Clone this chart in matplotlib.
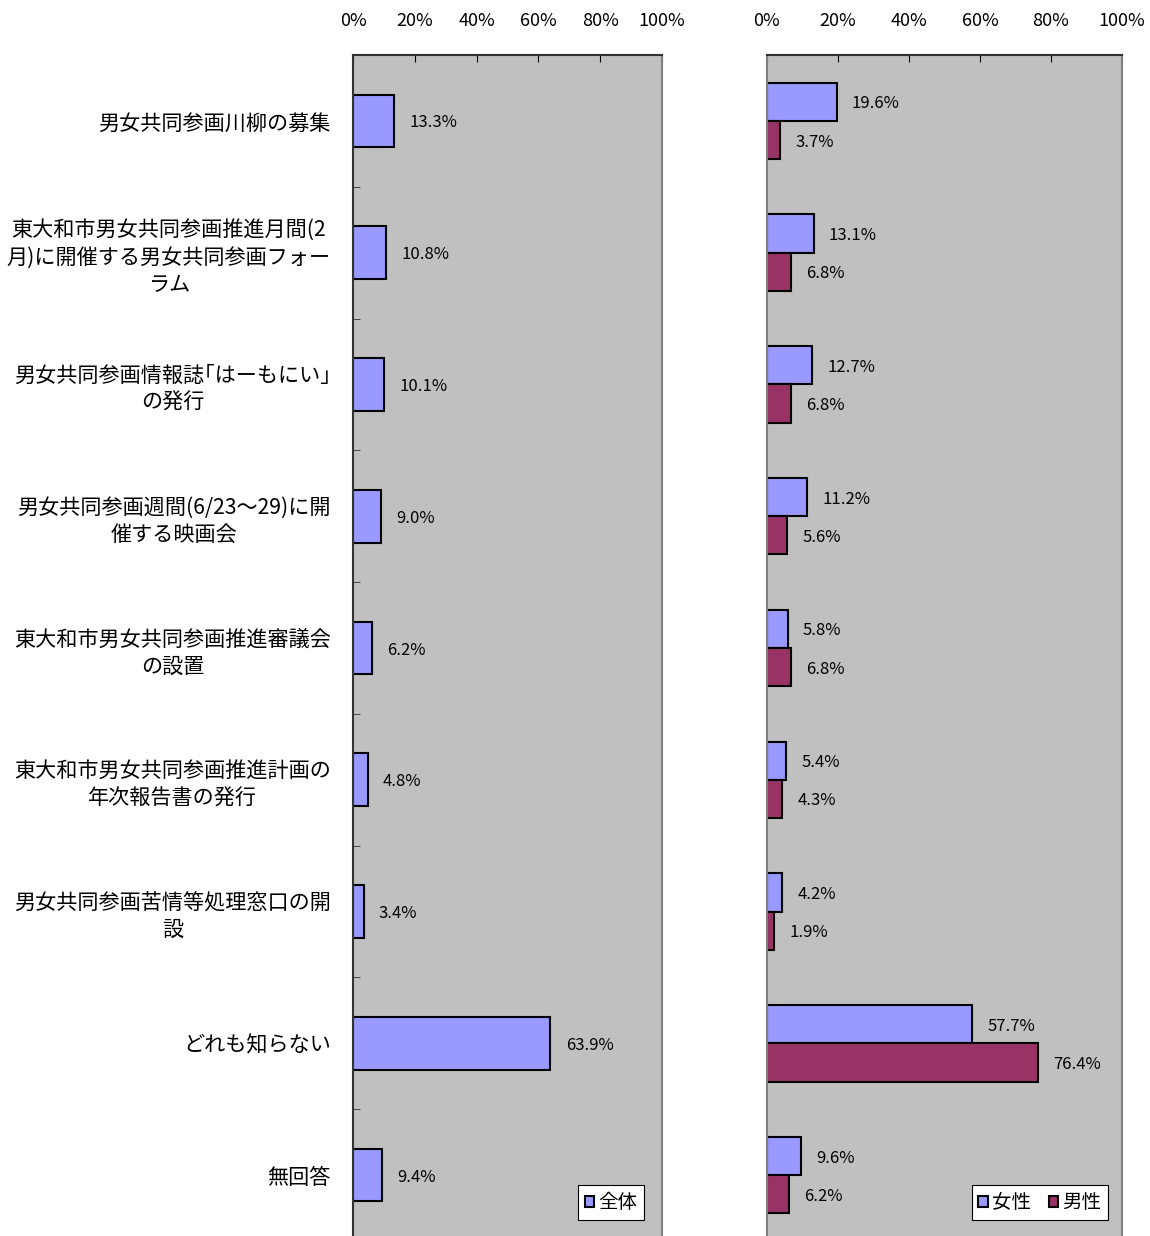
import matplotlib
matplotlib.use('Agg')
import matplotlib.pyplot as plt
import numpy as np

plt.rcParams['font.family'] = ['Noto Sans CJK JP', 'DejaVu Sans']

# categories (top to bottom)
categories = [
    '男女共同参画川柳の募集',
    '東大和市男女共同参画推進月間(2\n月)に開催する男女共同参画フォー\nラム',
    '男女共同参画情報誌｢はーもにい｣\nの発行',
    '男女共同参画週間(6/23～29)に開\n催する映画会',
    '東大和市男女共同参画推進審議会\nの設置',
    '東大和市男女共同参画推進計画の\n年次報告書の発行',
    '男女共同参画苦情等処理窓口の開\n設',
    'どれも知らない',
    '無回答',
]
total = [13.3, 10.8, 10.1, 9.0, 6.2, 4.8, 3.4, 63.9, 9.4]
female = [19.6, 13.1, 12.7, 11.2, 5.8, 5.4, 4.2, 57.7, 9.6]
male = [3.7, 6.8, 6.8, 5.6, 6.8, 4.3, 1.9, 76.4, 6.2]
xticks = [0, 20, 40, 60, 80, 100]

blue = '#9999FF'
maroon = '#993366'
bg = '#C0C0C0'

W, H = 1150, 1236
fig = plt.figure(figsize=(W / 100, H / 100), dpi=100)

top_px = 55
bot_px = 1241
ax1 = fig.add_axes([353 / W, 1 - bot_px / H, (662 - 353) / W, (bot_px - top_px) / H])
ax2 = fig.add_axes([767 / W, 1 - bot_px / H, (1122 - 767) / W, (bot_px - top_px) / H])

n = len(categories)
y = np.arange(n)

# left panel: overall
ax1.barh(y, total, height=0.4, color=blue, edgecolor='black', linewidth=1.5)
for yi, v in zip(y, total):
    ax1.annotate(f'{v:.1f}%', (v, yi), xytext=(11, -1.5), textcoords='offset points',
                 va='center', ha='left', fontsize=12)

# right panel: female / male
bh = 0.29
ax2.barh(y - bh / 2, female, height=bh, color=blue, edgecolor='black', linewidth=1.5, label='女性')
ax2.barh(y + bh / 2, male, height=bh, color=maroon, edgecolor='black', linewidth=1.5, label='男性')
for yi, v in zip(y, female):
    ax2.annotate(f'{v:.1f}%', (v, yi - bh / 2), xytext=(11, -1.5), textcoords='offset points',
                 va='center', ha='left', fontsize=12)
for yi, v in zip(y, male):
    ax2.annotate(f'{v:.1f}%', (v, yi + bh / 2), xytext=(11, -1.5), textcoords='offset points',
                 va='center', ha='left', fontsize=12)

for ax in (ax1, ax2):
    ax.set_facecolor(bg)
    ax.set_xlim(0, 100)
    ax.set_ylim(n - 0.5, -0.5)
    ax.xaxis.tick_top()
    ax.set_xticks(xticks)
    ax.set_xticklabels([f'{t}%' for t in xticks], fontsize=13)
    ax.tick_params(axis='x', direction='in', length=5, pad=18, color='black')
    ax.spines['bottom'].set_visible(False)
    ax.spines['top'].set_color('#333333')
    ax.spines['right'].set_color('#808080')
    for s in ('top', 'right', 'left'):
        ax.spines[s].set_linewidth(1.5)

ax1.spines['left'].set_color('#333333')
ax1.set_yticks(y)
ax1.set_yticklabels(categories, fontsize=15.2, multialignment='center', linespacing=1.3)
ax1.tick_params(axis='y', length=0, pad=16)
ax1.set_yticks(np.arange(n + 1) - 0.5, minor=True)
ax1.tick_params(axis='y', which='minor', direction='in', length=5, color='#333333')

ax2.spines['left'].set_color('#808080')
ax2.set_yticks([])

leg_kw = dict(loc='lower right', fontsize=14, frameon=True, fancybox=False,
              edgecolor='black', framealpha=1, handlelength=0.5, handleheight=0.5,
              handletextpad=0.2, borderpad=0.35, columnspacing=0.9, borderaxespad=0)
h1 = plt.Rectangle((0, 0), 1, 1, facecolor=blue, edgecolor='black', linewidth=1.5)
leg1 = ax1.legend([h1], ['全体'], bbox_transform=fig.transFigure,
                  bbox_to_anchor=(644 / W, 1 - 1220 / H), **leg_kw)
leg1.get_frame().set_linewidth(0.8)
leg2 = ax2.legend(ncol=2, bbox_transform=fig.transFigure,
                  bbox_to_anchor=(1108 / W, 1 - 1220 / H), **leg_kw)
leg2.get_frame().set_linewidth(0.8)

fig.savefig('out.png', dpi=100)
